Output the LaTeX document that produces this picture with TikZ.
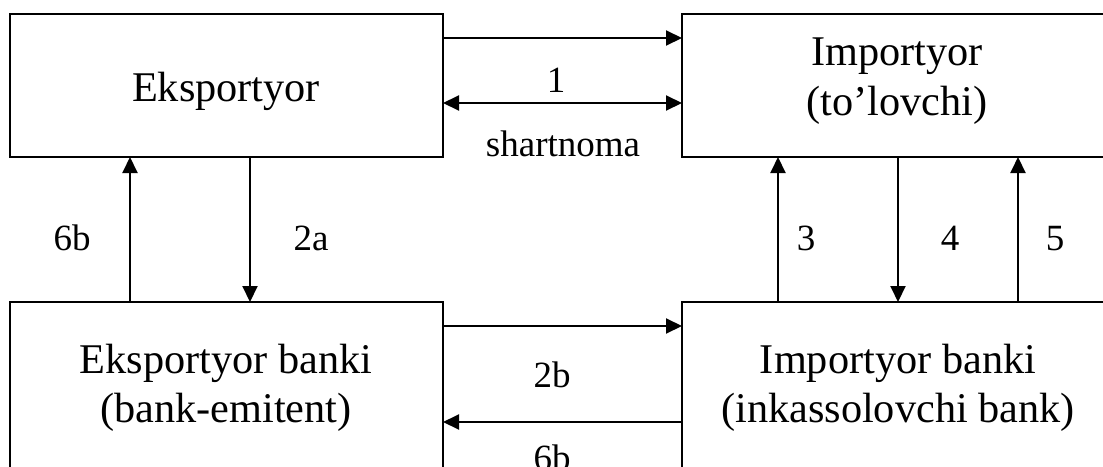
\documentclass[tikz,border=0pt]{standalone}
\usepackage{fontspec}
\setmainfont{Liberation Serif}
\usetikzlibrary{arrows.meta}
\begin{document}
\begin{tikzpicture}[x=1pt,y=-1pt,
  box/.style={draw,line width=2pt,rectangle,anchor=north west,inner sep=0pt,outer sep=0pt},
  big/.style={font=\fontsize{42.3pt}{50pt}\selectfont,anchor=base,inner sep=0pt},
  small/.style={font=\fontsize{37pt}{44pt}\selectfont,anchor=base,inner sep=0pt},
  arr/.style={line width=2pt,-{Triangle[length=16pt,width=15pt]}},
  darr/.style={line width=2pt,{Triangle[length=16pt,width=15pt]}-{Triangle[length=16pt,width=15pt]}}]
\useasboundingbox (0,0) rectangle (1103,466);
\clip (0,0) rectangle (1103,466);
\fill[white] (0,0) rectangle (1103,466);
% boxes
\node[box,minimum width=433pt,minimum height=143pt] (E) at (10,14) {};
\node[box,minimum width=430pt,minimum height=143pt] (I) at (682,14) {};
\node[box,minimum width=433pt,minimum height=174pt] (EB) at (10,302) {};
\node[box,minimum width=430pt,minimum height=174pt] (IB) at (682,302) {};
% box texts
\node[big] (tE) at (226,101) {Eksportyor};
\node[big] (tI1) at (897,65) {Importyor};
\node[big] (tI2) at (897,115) {(to’lovchi)};
\node[big] (tEB1) at (226,373) {Eksportyor banki};
\node[big] (tEB2) at (226,422) {(bank-emitent)};
\node[big] (tIB1) at (898,373) {Importyor banki};
\node[big] (tIB2) at (898,422) {(inkassolovchi bank)};
% top connectors
\draw[arr] (E.east |- 0,38) -- (I.west |- 0,38);
\draw[darr] (E.east |- 0,103) -- (I.west |- 0,103);
\node[small] (l1) at (556,92) {1};
\node[small] (lsh) at (563,156) {shartnoma};
% left verticals
\draw[arr] (EB.north -| 130,0) -- (E.south -| 130,0);
\draw[arr] (E.south -| 250,0) -- (EB.north -| 250,0);
\node[small] (l6b) at (72,250) {6b};
\node[small] (l2a) at (311,250) {2a};
% right verticals
\draw[arr] (IB.north -| 778,0) -- (I.south -| 778,0);
\draw[arr] (I.south -| 898,0) -- (IB.north -| 898,0);
\draw[arr] (IB.north -| 1018,0) -- (I.south -| 1018,0);
\node[small] (l3) at (806,250) {3};
\node[small] (l4) at (950,250) {4};
\node[small] (l5) at (1055,250) {5};
% bottom connectors
\draw[arr] (EB.east |- 0,326) -- (IB.west |- 0,326);
\draw[arr] (IB.west |- 0,422) -- (EB.east |- 0,422);
\node[small] (l2b) at (552,387) {2b};
\node[small] (l6b2) at (552,470) {6b};
\end{tikzpicture}
\end{document}
